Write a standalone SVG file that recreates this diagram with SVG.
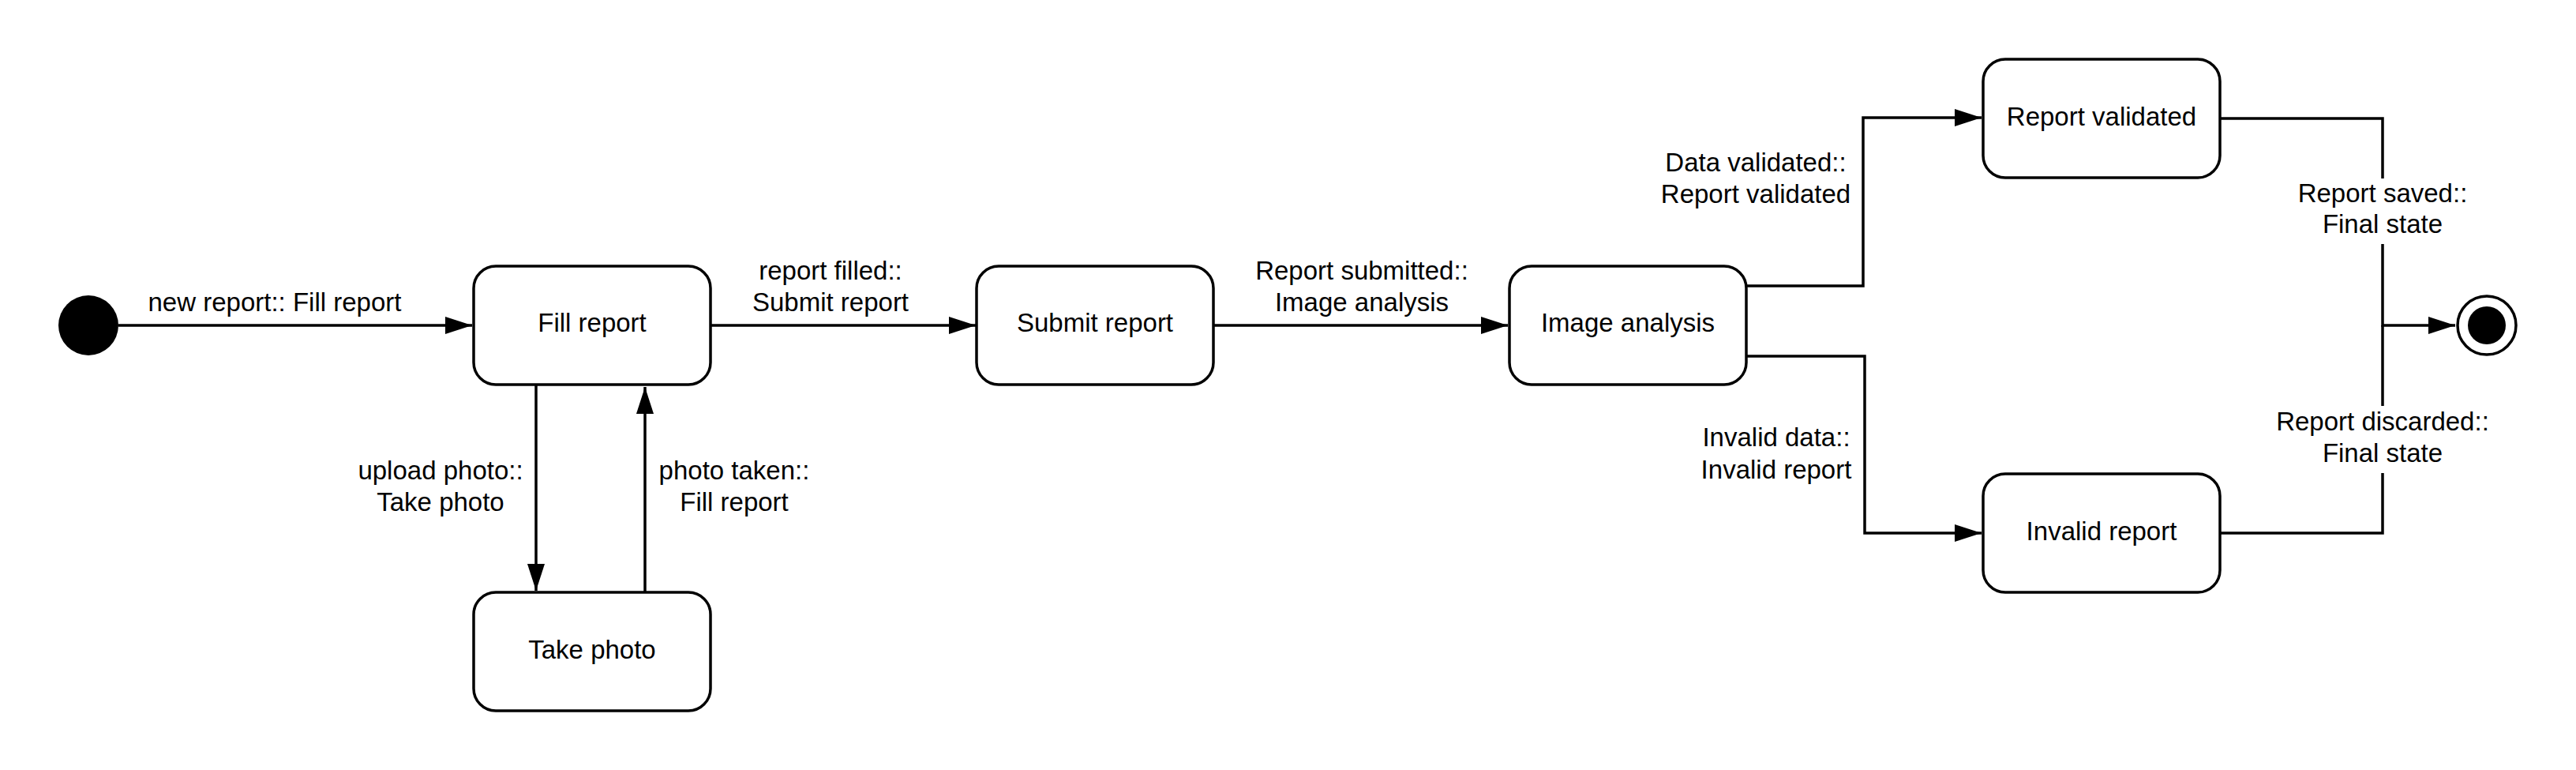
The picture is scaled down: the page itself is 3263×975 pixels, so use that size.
<svg xmlns="http://www.w3.org/2000/svg" width="3263" height="975" viewBox="0 0 3263 975">
<style>
.node rect{fill:#fff;stroke:#000;stroke-width:3.5}
text{font-family:"Liberation Sans",Arial,sans-serif;font-size:33px;fill:#000;text-anchor:middle}
.conn path{fill:none;stroke:#000;stroke-width:3.5}
</style>
<defs>
<marker id="arr" markerUnits="userSpaceOnUse" markerWidth="36" markerHeight="24" refX="34" refY="11" orient="auto">
<path d="M0,0 L34,11 L0,22 Z" fill="#000"/>
</marker>
</defs>
<rect width="3263" height="975" fill="#fff"/>
<g id="connectors" class="conn">
<path d="M150 412 H598" marker-end="url(#arr)"/>
<path d="M900 412 H1236" marker-end="url(#arr)"/>
<path d="M1537 412 H1910" marker-end="url(#arr)"/>
<path d="M679 488 V748" marker-end="url(#arr)"/>
<path d="M817 750 V490" marker-end="url(#arr)"/>
<path d="M2212 362 H2360 V149 H2510" marker-end="url(#arr)"/>
<path d="M2212 451 H2362 V675 H2510" marker-end="url(#arr)"/>
<path d="M2813 150 H3018 V226"/>
<path d="M3018 309 V412 H3110" marker-end="url(#arr)"/>
<path d="M2813 675 H3018 V599"/>
<path d="M3018 514 V412"/>
</g>
<g id="labels" transform="translate(0,2)">
<text x="348" y="392">new report:: Fill report</text>
<text x="1052" y="352">report filled::</text>
<text x="1052" y="392">Submit report</text>
<text x="1725" y="352">Report submitted::</text>
<text x="1725" y="392">Image analysis</text>
<text x="558" y="605">upload photo::</text>
<text x="558" y="645">Take photo</text>
<text x="930" y="605">photo taken::</text>
<text x="930" y="645">Fill report</text>
<text x="2224" y="215">Data validated::</text>
<text x="2224" y="255">Report validated</text>
<text x="2250" y="563">Invalid data::</text>
<text x="2250" y="604">Invalid report</text>
<text x="3018" y="254">Report saved::</text>
<text x="3018" y="293">Final state</text>
<text x="3018" y="543">Report discarded::</text>
<text x="3018" y="583">Final state</text>
</g>
<g id="initial"><circle cx="112" cy="412" r="38" fill="#000"/></g>
<g id="fill-report" class="node"><rect x="600" y="337" width="300" height="150" rx="28"/><text x="750" y="420">Fill report</text></g>
<g id="take-photo" class="node"><rect x="600" y="750" width="300" height="150" rx="28"/><text x="750" y="834">Take photo</text></g>
<g id="submit-report" class="node"><rect x="1237" y="337" width="300" height="150" rx="28"/><text x="1387" y="420">Submit report</text></g>
<g id="image-analysis" class="node"><rect x="1912" y="337" width="300" height="150" rx="28"/><text x="2062" y="420">Image analysis</text></g>
<g id="report-validated" class="node"><rect x="2512" y="75" width="300" height="150" rx="28"/><text x="2662" y="159">Report validated</text></g>
<g id="invalid-report" class="node"><rect x="2512" y="600" width="300" height="150" rx="28"/><text x="2662" y="684">Invalid report</text></g>
<g id="final"><circle cx="3150" cy="412" r="37" fill="#fff" stroke="#000" stroke-width="3.5"/><circle cx="3150" cy="412" r="24" fill="#000"/></g>
</svg>
